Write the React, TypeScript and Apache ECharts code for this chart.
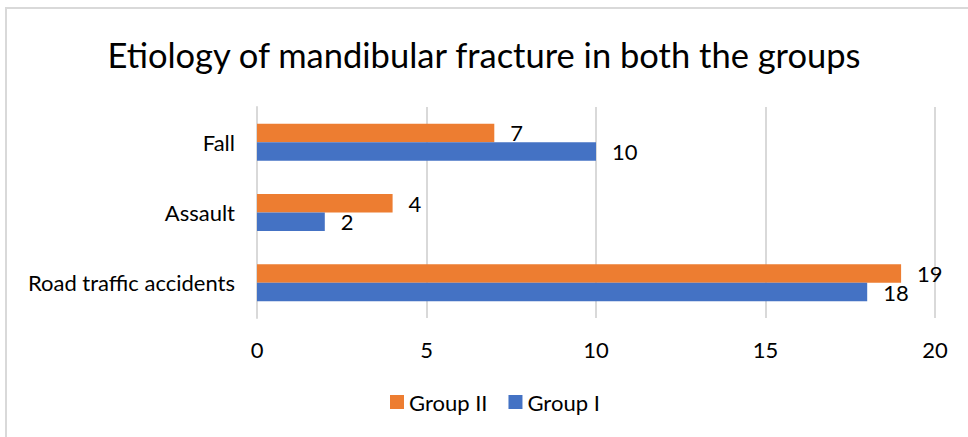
import React, { useEffect, useRef } from "react";
import * as echarts from "echarts";

const categories = ["Road traffic accidents", "Assault", "Fall"];
const groupI = [18, 2, 10];
const groupII = [19, 4, 7];
const xTicks = { min: 0, max: 20, interval: 5 };
const titleText = "Etiology of mandibular fracture in both the groups";

export default function App() {
  const ref = useRef<HTMLDivElement>(null);
  useEffect(() => {
    const chart = echarts.init(ref.current!, null, { renderer: "svg" });
    const font = "Lato";
    const labelStyle = {
      show: true,
      position: "right" as const,
      distance: 16,
      color: "#000",
      fontFamily: font,
      fontSize: 22,
    };
    chart.setOption({
      animation: false,
      backgroundColor: "#fff",
      title: {
        text: titleText,
        left: "center",
        top: 32,
        textStyle: { fontFamily: font, fontSize: 34.5, fontWeight: "normal", color: "#000" },
      },
      graphic: [
        {
          type: "rect",
          shape: { x: 6, y: 8, width: 1000, height: 500 },
          style: { fill: "none", stroke: "#d9d9d9", lineWidth: 2 },
          silent: true,
        },
      ],
      legend: {
        data: ["Group II", "Group I"],
        bottom: 19,
        left: 385,
        itemWidth: 14,
        itemHeight: 14,
        itemGap: 21,
        icon: "rect",
        textStyle: { fontFamily: font, fontSize: 22, color: "#000" },
      },
      grid: { left: 257, right: 33, top: 107, bottom: 119 },
      xAxis: {
        type: "value",
        min: xTicks.min,
        max: xTicks.max,
        interval: xTicks.interval,
        axisLine: { show: false },
        axisTick: { show: false },
        splitLine: { lineStyle: { color: "#d9d9d9", width: 2 } },
        axisLabel: { fontFamily: font, fontSize: 22, color: "#000", margin: 20 },
      },
      yAxis: {
        type: "category",
        data: categories,
        axisLine: { show: true, lineStyle: { color: "#d9d9d9", width: 2 } },
        axisTick: { show: false },
        axisLabel: { fontFamily: font, fontSize: 22, color: "#000", margin: 22 },
      },
      series: [
        {
          name: "Group II",
          type: "bar",
          data: groupII,
          itemStyle: { color: "#ED7D31" },
          barWidth: 18.5,
          barGap: "0%",
          label: labelStyle,
        },
        {
          name: "Group I",
          type: "bar",
          data: groupI,
          itemStyle: { color: "#4472C4" },
          barWidth: 18.5,
          barGap: "0%",
          label: labelStyle,
        },
      ],
    });
    return () => chart.dispose();
  }, []);
  return (
    <div
      ref={ref}
      style={{ position: "absolute", left: 0, top: 0, width: 968, height: 437 }}
    />
  );
}
